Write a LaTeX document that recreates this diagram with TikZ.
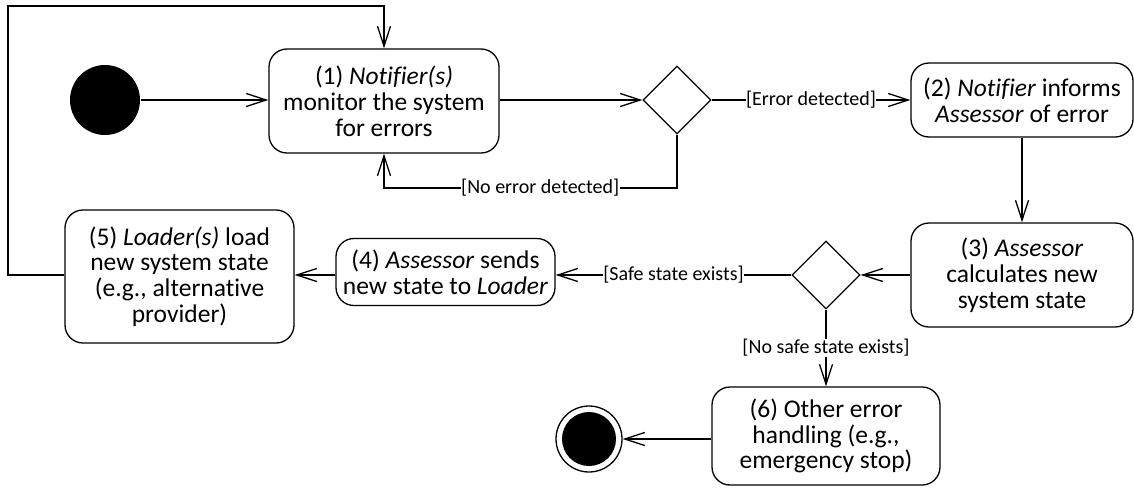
\documentclass[tikz,border=0pt]{standalone}
\usepackage{fontspec}
\setmainfont[Ligatures=NoCommon]{Carlito}
\usetikzlibrary{arrows.meta,shapes.geometric}
\begin{document}
\begin{tikzpicture}[x=1pt,y=-1pt,
  line width=1.3pt,
  txt/.style={font=\fontsize{25.5}{25.8}\selectfont},
  act/.style={txt, draw, rectangle, rounded corners=18pt, align=center, inner sep=0pt},
  dec/.style={draw, diamond, aspect=1, inner sep=0pt, minimum width=68pt, minimum height=68pt},
  lbl/.style={fill=white, inner sep=0.5pt, font=\fontsize{20}{22}\selectfont},
  arr/.style={-{Straight Barb[length=20pt,width=13pt]}}]
\useasboundingbox (0,0) rectangle (1134,488);

\node[circle, fill=black, inner sep=0pt, minimum size=70pt] (init) at (105,100) {};
\node[act, minimum width=230pt, minimum height=104pt] (n1) at (384,101)
  {(1) \textit{Notifier(s)}\\monitor the system\\for errors};
\node[dec] (d1) at (677,100) {};
\node[act, minimum width=222pt, minimum height=74pt] (n2) at (1022,100)
  {(2) \textit{Notifier} informs\\\textit{Assessor} of error};
\node[act, minimum width=222pt, minimum height=104pt] (n3) at (1022,275)
  {(3) \textit{Assessor}\\calculates new\\system state};
\node[dec] (d2) at (826,275) {};
\node[act, minimum width=219pt, minimum height=67pt] (n4) at (445.5,272)
  {(4) \textit{Assessor} sends\\new state to \textit{Loader}};
\node[act, minimum width=229pt, minimum height=133pt] (n5) at (179.5,276.5)
  {(5) \textit{Loader(s)} load\\new system state\\(e.g., alternative\\provider)};
\node[act, minimum width=228pt, minimum height=98pt] (n6) at (826,436)
  {(6) Other error\\handling (e.g.,\\emergency stop)};
\node[circle, draw, inner sep=0pt, minimum size=66pt,
  path picture={\fill (path picture bounding box.center) circle (27pt);}] (fin) at (589,439) {};

\coordinate (lc) at (8,6);
\coordinate (nel) at (0,188);

\draw[arr] (init.east) -- (n1.west |- init.east);
\draw[arr] (n1.east |- d1.west) -- (d1.west);
\draw[arr] (d1.east) -- node[lbl]{[Error detected]} (n2.west |- d1.east);
\draw[arr] (d1.south) -- (d1.south |- nel) -- node[lbl, pos=0.467]{[No error detected]} (n1.south |- nel) -- (n1.south);
\draw[arr] (n2.south) -- (n3.north);
\draw[arr] (n3.west) -- (d2.east);
\draw[arr] (d2.west) -- node[lbl]{[Safe state exists]} (n4.east |- d2.west);
\draw[arr] (n4.west |- d2.west) -- (n5.east |- d2.west);
\draw[arr] (n5.west |- d2.west) -| (lc) -| (n1.north);
\draw[arr] (d2.south) -- node[lbl]{[No safe state exists]} (n6.north);
\draw[arr] (n6.west |- fin) -- (fin.east);
\end{tikzpicture}
\end{document}
